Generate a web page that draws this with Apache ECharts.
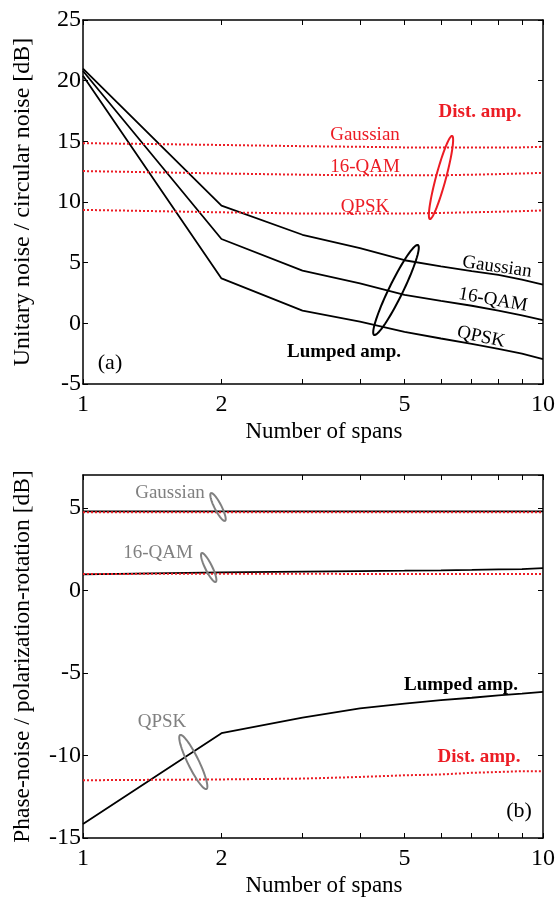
<!DOCTYPE html>
<html>
<head>
<meta charset="utf-8">
<title>Noise vs spans</title>
<script src="https://cdn.jsdelivr.net/npm/echarts@6/dist/echarts.min.js"></script>
<style>
  html, body { margin: 0; padding: 0; background: #fff; }
  #chart { width: 558px; height: 898px; }
</style>
</head>
<body>
<div id="chart"></div>
<script>
// number of spans (x)
var spans = [1, 2, 3, 4, 5, 6, 7, 8, 9, 10];
var xLabelValues = [1, 2, 5, 10];

// (a) unitary noise / circular noise [dB]
var lumpGaussA = [21.0, 9.7, 7.3, 6.2, 5.2, 4.7, 4.3, 4.0, 3.6, 3.2];
var lumpQamA   = [20.8, 6.95, 4.35, 3.3, 2.35, 1.85, 1.45, 1.05, 0.65, 0.27];
var lumpQpskA  = [20.4, 3.7, 1.05, 0.15, -0.7, -1.25, -1.7, -2.1, -2.5, -2.95];
var distGaussA = [14.85, 14.7, 14.6, 14.55, 14.5, 14.5, 14.5, 14.5, 14.5, 14.55];
var distQamA   = [12.55, 12.35, 12.25, 12.2, 12.2, 12.2, 12.25, 12.3, 12.35, 12.4];
var distQpskA  = [9.35, 9.15, 9.05, 9.05, 9.05, 9.1, 9.15, 9.2, 9.25, 9.3];

// (b) phase-noise / polarization-rotation [dB]
var lumpGaussB = [4.8, 4.8, 4.8, 4.8, 4.8, 4.8, 4.8, 4.8, 4.8, 4.8];
var lumpQamB   = [0.98, 1.1, 1.15, 1.18, 1.2, 1.22, 1.25, 1.28, 1.3, 1.35];
var lumpQpskB  = [-14.15, -8.65, -7.7, -7.15, -6.85, -6.65, -6.5, -6.35, -6.25, -6.15];
var distGaussB = [4.75, 4.75, 4.75, 4.75, 4.75, 4.75, 4.75, 4.75, 4.75, 4.75];
var distQamB   = [1.0, 1.02, 1.02, 1.0, 1.0, 1.0, 1.0, 1.0, 1.0, 1.0];
var distQpskB  = [-11.5, -11.45, -11.4, -11.3, -11.2, -11.15, -11.05, -11.0, -10.95, -10.95];

var FONT = '"Liberation Serif", "Times New Roman", serif';
var RED = '#ec1c24';
var GRAY = '#808080';

function pairs(ys) {
  return spans.map(function (x, i) { return [x, ys[i]]; });
}

function lumped(name, ys, grid) {
  return {
    name: name, type: 'line', xAxisIndex: grid * 2, yAxisIndex: grid * 2,
    data: pairs(ys), symbol: 'none', silent: true,
    lineStyle: { color: '#000', width: 1.8 }
  };
}
function dist(name, ys, grid) {
  return {
    name: name, type: 'line', xAxisIndex: grid * 2, yAxisIndex: grid * 2,
    data: pairs(ys), symbol: 'none', silent: true,
    lineStyle: { color: RED, width: 2, type: [2, 2] }
  };
}

function xAxes(grid) {
  var base = {
    type: 'log', logBase: 10, min: 1, max: 10, gridIndex: grid,
    axisLine: { onZero: false, lineStyle: { color: '#000', width: 1.5 } },
    axisTick: { inside: true, length: 5, customValues: spans, lineStyle: { color: '#000', width: 1 } },
    splitLine: { show: false }, minorTick: { show: false }
  };
  var bottom = Object.assign({}, base, {
    position: 'bottom',
    name: 'Number of spans', nameLocation: 'middle', nameGap: 36,
    nameTextStyle: { fontFamily: FONT, fontSize: 23, color: '#000', padding: [0, 0, 0, 22] },
    axisLabel: { customValues: xLabelValues, margin: 9, fontFamily: FONT, fontSize: 24, color: '#000',
      formatter: function (v) { return String(Math.round(v)); } }
  });
  var top = Object.assign({}, base, { position: 'top', axisLabel: { show: false } });
  return [bottom, top];
}

function yAxes(grid, min, max, name, nameSize) {
  var left = {
    type: 'value', gridIndex: grid, min: min, max: max, interval: 5, position: 'left',
    name: name, nameLocation: 'middle', nameGap: 48,
    nameTextStyle: { fontFamily: FONT, fontSize: nameSize, color: '#000' },
    axisLine: { show: true, onZero: false, lineStyle: { color: '#000', width: 1.5 } },
    axisTick: { show: true, inside: true, length: 5, lineStyle: { color: '#000', width: 1 } },
    axisLabel: { margin: 2, fontFamily: FONT, fontSize: 24, color: '#000', showMaxLabel: max % 5 === 0 },
    splitLine: { show: false }
  };
  var right = {
    type: 'value', gridIndex: grid, min: min, max: max, interval: 5, position: 'right',
    axisLine: { show: true, onZero: false, lineStyle: { color: '#000', width: 1.5 } },
    axisTick: { show: true, inside: true, length: 5, lineStyle: { color: '#000', width: 1 } },
    axisLabel: { show: false }, splitLine: { show: false }
  };
  return [left, right];
}

// outline of a tilted ellipse used for the annotation rings
function ring(cx, cy, a, b, tiltDeg, color) {
  var th = tiltDeg * Math.PI / 180;
  var dx = Math.sin(th), dy = -Math.cos(th);
  var nx = Math.cos(th), ny = Math.sin(th);
  var pts = [];
  for (var i = 0; i < 72; i++) {
    var t = i / 72 * Math.PI * 2;
    var u = b * Math.cos(t), v = a * Math.sin(t);
    pts.push([cx + v * dx + u * nx, cy + v * dy + u * ny]);
  }
  return { type: 'polygon', silent: true, z: 100, shape: { points: pts },
    style: { fill: 'none', stroke: color, lineWidth: 2 } };
}

function label(text, x, y, color, size, bold, rotDeg) {
  return {
    type: 'text', x: x, y: y, z: 100, silent: true, rotation: (rotDeg || 0) * Math.PI / 180,
    style: { text: text, fill: color, align: 'center', verticalAlign: 'middle',
      font: (bold ? 'bold ' : '') + size + 'px ' + FONT }
  };
}

var chart = echarts.init(document.getElementById('chart'), null, { renderer: 'canvas' });

chart.setOption({
  animation: false,
  backgroundColor: '#fff',
  grid: [
    { left: 83, right: 9, top: 20, height: 364 },
    { left: 83, right: 9, top: 475, height: 363 }
  ],
  xAxis: xAxes(0).concat(xAxes(1)),
  yAxis: yAxes(0, -5, 25, 'Unitary noise / circular noise [dB]', 24)
    .concat(yAxes(1, -15, 7, 'Phase-noise / polarization-rotation [dB]', 23.5)),
  series: [
    lumped('Gaussian lumped', lumpGaussA, 0),
    lumped('16-QAM lumped', lumpQamA, 0),
    lumped('QPSK lumped', lumpQpskA, 0),
    dist('Gaussian dist', distGaussA, 0),
    dist('16-QAM dist', distQamA, 0),
    dist('QPSK dist', distQpskA, 0),
    lumped('Gaussian lumped', lumpGaussB, 1),
    lumped('16-QAM lumped', lumpQamB, 1),
    lumped('QPSK lumped', lumpQpskB, 1),
    dist('Gaussian dist', distGaussB, 1),
    dist('16-QAM dist', distQamB, 1),
    dist('QPSK dist', distQpskB, 1)
  ],
  graphic: [
    // panel (a)
    label('Gaussian', 365, 135, RED, 19),
    label('16-QAM', 365, 167, RED, 19),
    label('QPSK', 365, 207, RED, 19),
    label('Dist. amp.', 480, 112, RED, 19, true),
    ring(441, 177.5, 43, 5, 15, RED),
    ring(396, 290, 50, 7, 26, '#000'),
    label('Gaussian', 497, 267, '#000', 19, false, -8),
    label('16-QAM', 493, 300, '#000', 19, false, -10),
    label('QPSK', 481, 337, '#000', 19, false, -12),
    label('Lumped amp.', 344, 352, '#000', 19, true),
    label('(a)', 110, 363, '#000', 22),
    // panel (b)
    label('Gaussian', 170, 493, GRAY, 19),
    ring(218, 507, 15.5, 3.5, -27, GRAY),
    label('16-QAM', 158, 553, GRAY, 19),
    ring(208.7, 567.5, 16, 3.5, -26, GRAY),
    label('QPSK', 162, 722, GRAY, 19),
    ring(193.3, 762, 30, 5.5, -26, GRAY),
    label('Lumped amp.', 461, 685, '#000', 19, true),
    label('Dist. amp.', 479, 757, RED, 19, true),
    label('(b)', 519, 811, '#000', 22)
  ]
});
</script>
</body>
</html>
